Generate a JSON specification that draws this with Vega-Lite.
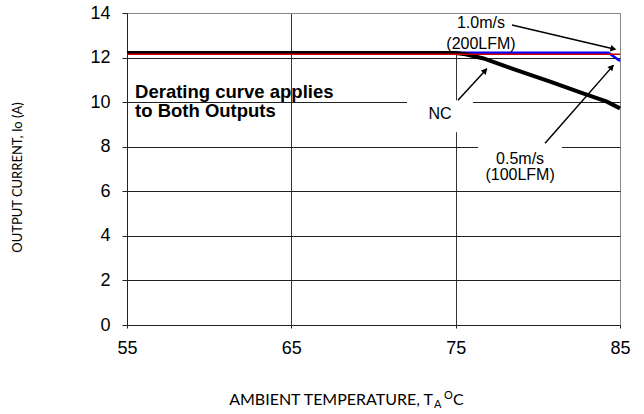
{
  "$schema": "https://vega.github.io/schema/vega-lite/v6.json",
  "width": 493,
  "height": 312,
  "autosize": "none",
  "padding": {"left": 127, "top": 13, "right": 24, "bottom": 89},
  "background": "white",
  "config": {
    "view": {"stroke": "#888888", "strokeWidth": 1},
    "axis": {"labelFont": "Liberation Sans", "labelFontSize": 18, "labelColor": "#000000", "domainColor": "#222222", "tickColor": "#222222", "gridWidth": 1, "labelFlush": false}
  },
  "datasets": {
    "curves": [
      {"s": "0.5m/s", "t": 55, "io": 12.22},
      {"s": "0.5m/s", "t": 84.3, "io": 12.22},
      {"s": "0.5m/s", "t": 85, "io": 11.85},
      {"s": "NC", "t": 55, "io": 12.2},
      {"s": "NC", "t": 75, "io": 12.2},
      {"s": "NC", "t": 75.6, "io": 12.15},
      {"s": "NC", "t": 76.7, "io": 11.96},
      {"s": "NC", "t": 78.7, "io": 11.44},
      {"s": "NC", "t": 80.75, "io": 10.92},
      {"s": "NC", "t": 82.75, "io": 10.39},
      {"s": "NC", "t": 84.2, "io": 10.02},
      {"s": "NC", "t": 85, "io": 9.72},
      {"s": "1.0m/s", "t": 55, "io": 12.15},
      {"s": "1.0m/s", "t": 85, "io": 12.15}
    ]
  },
  "data": {"values": [{}]},
  "layer": [
    {
      "mark": {"type": "rect", "color": "white"},
      "encoding": {
        "x": {"datum": 72.04, "type": "quantitative", "scale": {"domain": [55, 85], "nice": false},
          "axis": {"values": [55, 65, 75, 85], "title": null, "grid": true, "gridColor": {"condition": {"test": "datum.value === 85", "value": "#888888"}, "value": "#333333"}, "tickSize": 3, "labelPadding": 11}},
        "x2": {"datum": 76.05},
        "y": {"datum": 10.09, "type": "quantitative", "scale": {"domain": [0, 14], "nice": false},
          "axis": {"values": [0, 2, 4, 6, 8, 10, 12, 14], "grid": true, "gridColor": {"condition": {"test": "datum.value === 14", "value": "#888888"}, "value": "#222222"}, "tickSize": 5, "labelPadding": 12,
            "title": "OUTPUT CURRENT, Io (A)", "titleFont": "Lato", "titleFontSize": 13, "titleFontWeight": "normal", "titleColor": "#000000", "titleX": -110, "titleY": 164, "titleAngle": -90, "titleAlign": "center", "titleBaseline": "middle"}},
        "y2": {"datum": 8.65}
      }
    },
    {
      "mark": {"type": "rect", "color": "white"},
      "encoding": {
        "x": {"datum": 76.36, "type": "quantitative"},
        "x2": {"datum": 81.47},
        "y": {"datum": 8.07, "type": "quantitative"},
        "y2": {"datum": 6.1}
      }
    },
    {
      "mark": {"type": "rect", "color": "white"},
      "encoding": {
        "x": {"datum": 74.47, "type": "quantitative"},
        "x2": {"datum": 78.61},
        "y": {"datum": 13.95, "type": "quantitative"},
        "y2": {"datum": 12.3}
      }
    },
    {
      "data": {"name": "curves"},
      "transform": [{"filter": "datum.s === '0.5m/s'"}],
      "mark": {"type": "line", "color": "#0000ff", "strokeWidth": 2.5},
      "encoding": {"x": {"field": "t", "type": "quantitative"}, "y": {"field": "io", "type": "quantitative"}}
    },
    {
      "data": {"name": "curves"},
      "transform": [{"filter": "datum.s === 'NC'"}],
      "mark": {"type": "line", "color": "#000000", "strokeWidth": 4},
      "encoding": {"x": {"field": "t", "type": "quantitative"}, "y": {"field": "io", "type": "quantitative"}}
    },
    {
      "data": {"name": "curves"},
      "transform": [{"filter": "datum.s === '1.0m/s'"}],
      "mark": {"type": "line", "color": "#cc0000", "strokeWidth": 1.5},
      "encoding": {"x": {"field": "t", "type": "quantitative"}, "y": {"field": "io", "type": "quantitative"}}
    },
    {
      "mark": {"type": "rule", "color": "#000000", "strokeWidth": 1.5},
      "encoding": {"x": {"datum": 75.14, "type": "quantitative"}, "y": {"datum": 10.09, "type": "quantitative"}, "x2": {"datum": 76.9}, "y2": {"datum": 11.5}}
    },
    {
      "mark": {"type": "point", "shape": "triangle-up", "filled": true, "color": "#000000", "size": 45, "angle": 42, "opacity": 1},
      "encoding": {"x": {"datum": 76.8, "type": "quantitative"}, "y": {"datum": 11.42, "type": "quantitative"}}
    },
    {
      "mark": {"type": "rule", "color": "#000000", "strokeWidth": 1.5},
      "encoding": {"x": {"datum": 78.43, "type": "quantitative"}, "y": {"datum": 13.46, "type": "quantitative"}, "x2": {"datum": 84.7}, "y2": {"datum": 12.37}}
    },
    {
      "mark": {"type": "point", "shape": "triangle-up", "filled": true, "color": "#000000", "size": 45, "angle": 103, "opacity": 1},
      "encoding": {"x": {"datum": 84.6, "type": "quantitative"}, "y": {"datum": 12.39, "type": "quantitative"}}
    },
    {
      "mark": {"type": "rule", "color": "#000000", "strokeWidth": 1.5},
      "encoding": {"x": {"datum": 80.44, "type": "quantitative"}, "y": {"datum": 8.16, "type": "quantitative"}, "x2": {"datum": 84.6}, "y2": {"datum": 11.65}}
    },
    {
      "mark": {"type": "point", "shape": "triangle-up", "filled": true, "color": "#000000", "size": 45, "angle": 41, "opacity": 1},
      "encoding": {"x": {"datum": 84.5, "type": "quantitative"}, "y": {"datum": 11.58, "type": "quantitative"}}
    },
    {
      "mark": {"type": "text", "text": "1.0m/s", "font": "Liberation Sans", "fontSize": 16, "align": "center", "baseline": "middle", "color": "#000000"},
      "encoding": {"x": {"datum": 76.54, "type": "quantitative"}, "y": {"datum": 13.55, "type": "quantitative"}}
    },
    {
      "mark": {"type": "text", "text": "(200LFM)", "font": "Liberation Sans", "fontSize": 16, "align": "center", "baseline": "middle", "color": "#000000"},
      "encoding": {"x": {"datum": 76.54, "type": "quantitative"}, "y": {"datum": 12.63, "type": "quantitative"}}
    },
    {
      "mark": {"type": "text", "text": "NC", "font": "Liberation Sans", "fontSize": 16, "align": "center", "baseline": "middle", "color": "#000000"},
      "encoding": {"x": {"datum": 74.05, "type": "quantitative"}, "y": {"datum": 9.47, "type": "quantitative"}}
    },
    {
      "mark": {"type": "text", "text": "0.5m/s", "font": "Liberation Sans", "fontSize": 16, "align": "center", "baseline": "middle", "color": "#000000"},
      "encoding": {"x": {"datum": 78.92, "type": "quantitative"}, "y": {"datum": 7.47, "type": "quantitative"}}
    },
    {
      "mark": {"type": "text", "text": "(100LFM)", "font": "Liberation Sans", "fontSize": 16, "align": "center", "baseline": "middle", "color": "#000000"},
      "encoding": {"x": {"datum": 78.92, "type": "quantitative"}, "y": {"datum": 6.72, "type": "quantitative"}}
    },
    {
      "mark": {"type": "text", "text": ["Derating curve applies", "to Both Outputs"], "lineHeight": 19, "font": "Liberation Sans", "fontSize": 18.5, "fontWeight": "bold", "align": "left", "baseline": "alphabetic", "color": "#000000"},
      "encoding": {"x": {"datum": 55.49, "type": "quantitative"}, "y": {"datum": 10.18, "type": "quantitative"}}
    },
    {
      "mark": {"type": "text", "text": "AMBIENT TEMPERATURE, T", "font": "Lato", "fontSize": 16, "align": "right", "baseline": "alphabetic", "color": "#000000"},
      "encoding": {"x": {"datum": 73.62, "type": "quantitative"}, "y": {"datum": -3.59, "type": "quantitative"}}
    },
    {
      "mark": {"type": "text", "text": "A", "font": "Lato", "fontSize": 11, "align": "left", "baseline": "alphabetic", "color": "#000000"},
      "encoding": {"x": {"datum": 73.68, "type": "quantitative"}, "y": {"datum": -3.72, "type": "quantitative"}}
    },
    {
      "mark": {"type": "text", "text": "O", "font": "Lato", "fontSize": 11, "align": "left", "baseline": "alphabetic", "color": "#000000"},
      "encoding": {"x": {"datum": 74.29, "type": "quantitative"}, "y": {"datum": -3.32, "type": "quantitative"}}
    },
    {
      "mark": {"type": "text", "text": "C", "font": "Lato", "fontSize": 16, "align": "left", "baseline": "alphabetic", "color": "#000000"},
      "encoding": {"x": {"datum": 74.84, "type": "quantitative"}, "y": {"datum": -3.59, "type": "quantitative"}}
    }
  ]
}
